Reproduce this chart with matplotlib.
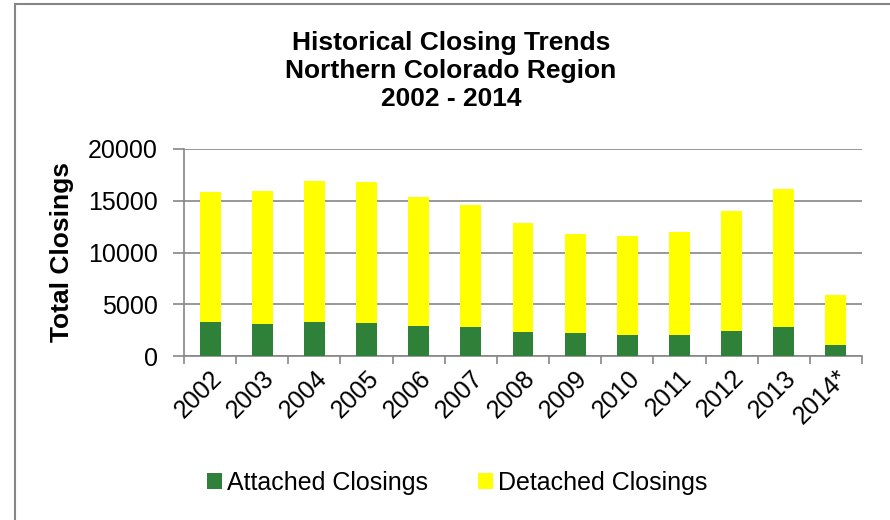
import matplotlib
matplotlib.use("Agg")
import matplotlib.pyplot as plt
from matplotlib.patches import Rectangle
import numpy as np

years = ["2002", "2003", "2004", "2005", "2006", "2007", "2008",
         "2009", "2010", "2011", "2012", "2013", "2014*"]
attached = [3320, 3130, 3320, 3230, 2870, 2770, 2360,
            2190, 2000, 2070, 2420, 2810, 1030]
totals = [15870, 15900, 16900, 16840, 15360, 14610, 12840,
          11780, 11580, 11970, 13970, 16100, 5870]
detached = [t - a for t, a in zip(totals, attached)]

GREEN = "#2f8139"
YELLOW = "#ffff00"
GRID = "#868686"

plt.rcParams["font.family"] = ["Liberation Sans", "DejaVu Sans"]

fig = plt.figure(figsize=(8.9, 5.2), dpi=100)
ax = fig.add_axes([184 / 890, 1 - 356 / 520, (862 - 184) / 890, (356 - 149) / 520])

x = np.arange(len(years))
ax.bar(x, attached, width=0.4, color=GREEN, label="Attached Closings", zorder=3)
ax.bar(x, detached, width=0.4, bottom=attached, color=YELLOW,
       label="Detached Closings", zorder=3)

ax.set_xlim(-0.5, len(years) - 0.5)
ax.set_ylim(0, 20000)
ax.set_yticks([0, 5000, 10000, 15000, 20000])
ax.yaxis.grid(True, color=GRID, lw=1.2, zorder=0)
ax.set_axisbelow(True)

ax.set_xticks(x)
ax.set_xticklabels(years, rotation=45, ha="right", rotation_mode="anchor",
                   fontsize=18)
ax.set_xticks(np.arange(-0.5, len(years)), minor=True)
ax.tick_params(axis="x", which="major", length=0, pad=7)
ax.tick_params(axis="x", which="minor", length=6, color=GRID, width=1.2)
ax.tick_params(axis="y", length=8, color=GRID, width=1.2, pad=11, labelsize=18)

for side in ("top", "right"):
    ax.spines[side].set_visible(False)
for side in ("left", "bottom"):
    ax.spines[side].set_color(GRID)
    ax.spines[side].set_linewidth(1.2)

ax.set_ylabel("Total Closings", fontsize=19, fontweight="bold", labelpad=10)

fig.text(451 / 890, 1 - 71 / 520,
         "Historical Closing Trends\nNorthern Colorado Region\n2002 - 2014",
         ha="center", va="center", fontsize=19, fontweight="bold",
         linespacing=1.2)

fig.legend(loc="center", bbox_to_anchor=(457 / 890, 1 - 483 / 520), ncol=2,
           frameon=False, fontsize=18, handlelength=0.6, handleheight=0.6,
           handletextpad=0.2, columnspacing=2.0)

fig.patches.append(Rectangle((15 / 890, -0.05), 1.2, (1 - 4 / 520) + 0.05,
                             transform=fig.transFigure, fill=False,
                             edgecolor=GRID, lw=1.5))

fig.savefig("out.png", dpi=100)
